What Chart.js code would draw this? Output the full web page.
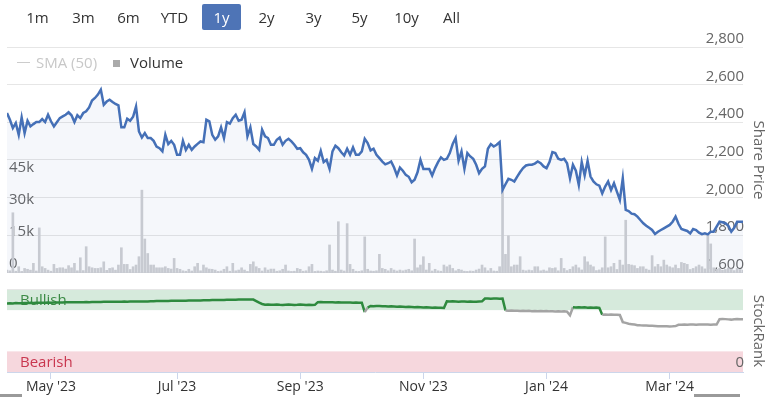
<!DOCTYPE html>
<html><head><meta charset="utf-8">
<script src="https://cdn.jsdelivr.net/npm/chart.js@4.4.1/dist/chart.umd.min.js"></script>
<style>
html,body{margin:0;padding:0;background:#fff;}
#wrap{position:relative;width:767px;height:397px;overflow:hidden;font-family:"Open Sans",sans-serif;}
#c{position:absolute;left:0;top:0;}
.btn{position:absolute;top:4px;width:39px;height:26px;line-height:26px;font-size:15px;color:#333;text-align:center;border-radius:2px;}
.sel{background:#4e74b6;color:#fff;}
.lg{position:absolute;font-size:15px;line-height:20px;top:52px;white-space:nowrap;}
.vt{position:absolute;font-size:15px;color:#666;white-space:nowrap;transform:translate(-50%,-50%) rotate(90deg);}
.sb{position:absolute;top:394px;height:3px;background:#9a9a9a;}
</style>
</head><body>
<div id="wrap">
<canvas id="c" width="767" height="397"></canvas>
<div class="btn" style="left:18px">1m</div>
<div class="btn" style="left:64px">3m</div>
<div class="btn" style="left:109px">6m</div>
<div class="btn" style="left:155px">YTD</div>
<div class="btn sel" style="left:202px">1y</div>
<div class="btn" style="left:247px">2y</div>
<div class="btn" style="left:294px">3y</div>
<div class="btn" style="left:340px">5y</div>
<div class="btn" style="left:387px">10y</div>
<div class="btn" style="left:432px">All</div>
<div style="position:absolute;left:17px;top:62px;width:13px;height:1px;background:#ccc"></div>
<div class="lg" style="left:36px;color:#c8c8c8">SMA (50)</div>
<div style="position:absolute;left:113px;top:60px;width:7px;height:7px;background:#aaa"></div>
<div class="lg" style="left:130px;color:#333">Volume</div>
<div class="vt" style="left:760px;top:160px">Share Price</div>
<div class="vt" style="left:760px;top:331px">StockRank</div>
<div class="sb" style="left:0;width:22px"></div>
<div class="sb" style="left:694px;width:46px"></div>
</div>
<script>
const priceValues = [
2449,2413,2369,2396,2333,2426,2342,2408,2378,2390,
2401,2401,2417,2401,2440,2405,2378,2400,2422,2431,
2440,2453,2437,2401,2437,2422,2449,2458,2479,2515,
2529,2547,2573,2493,2510,2520,2508,2497,2490,2373,
2373,2419,2408,2429,2483,2351,2319,2342,2316,2316,
2301,2271,2262,2245,2333,2284,2301,2280,2227,2227,
2301,2253,2280,2253,2271,2285,2298,2294,2413,2405,
2333,2307,2325,2373,2316,2401,2393,2422,2440,2408,
2413,2453,2325,2373,2284,2271,2253,2360,2325,2316,
2280,2280,2307,2319,2280,2301,2312,2298,2280,2259,
2262,2240,2227,2200,2152,2209,2195,2248,2188,2200,
2152,2245,2275,2262,2240,2223,2259,2227,2266,2227,
2227,2245,2312,2289,2250,2259,2227,2209,2191,2176,
2182,2191,2159,2117,2159,2142,2120,2110,2081,2094,
2134,2200,2152,2152,2152,2117,2156,2188,2213,2200,
2206,2236,2284,2316,2195,2245,2152,2236,2218,2205,
2174,2129,2152,2165,2259,2284,2271,2280,2294,2040,
2070,2099,2094,2085,2111,2135,2156,2170,2174,2174,
2180,2191,2182,2165,2156,2188,2241,2236,2206,2200,
2206,2182,2102,2174,2142,2067,2188,2117,2195,2111,
2085,2070,2063,2022,2058,2085,2040,2076,2031,1987,
2102,1934,1928,1914,1911,1898,1880,1863,1850,1839,
1827,1806,1818,1827,1836,1845,1854,1871,1898,1860,
1832,1827,1822,1809,1832,1827,1813,1805,1809,1804,
1818,1818,1845,1871,1868,1863,1850,1818,1839,1871,
1871,1871];

const volumeValues = [
1200,900,28100,700,2800,600,2000,1600,1200,4400,
800,21000,2800,2000,1200,700,3900,2000,2300,2300,
1700,3300,2300,4400,900,7000,1000,12200,2800,2300,
2000,2000,2300,5100,1100,2000,2300,1200,3600,11700,
3900,3900,1500,2800,3600,7500,38700,15800,9000,3600,
3600,2300,2300,2300,2800,2000,1700,6700,2000,1600,
900,700,1600,800,2800,4400,900,3600,2300,1700,
1600,1250,600,800,1600,2800,700,4400,900,1250,
2300,1250,600,3900,5100,2800,2000,800,2300,1250,
1700,1700,700,900,1600,3600,800,600,700,2000,
1600,700,900,2800,3900,600,800,700,500,900,
13000,1250,700,23900,1250,800,23000,3900,1600,700,
600,900,16800,1600,800,700,900,8600,2000,1600,
900,2000,1250,800,1250,900,1250,1600,900,15800,
2300,3600,7500,1250,4400,800,1600,900,700,3600,
2800,3600,2000,900,1600,1250,700,600,800,700,
1250,1700,3600,2300,900,2000,800,700,2800,38700,
8600,17300,2800,3600,3600,7500,1200,900,1250,1000,
2800,2800,900,1250,800,2300,2000,2300,900,6700,
2000,1000,1600,2800,3600,2300,1300,7500,5100,3600,
2800,1000,1300,2300,16800,2300,2800,4400,1500,5900,
3600,24600,3900,3600,3300,2000,2800,2800,1700,1200,
8000,2800,3900,2800,5900,3600,2800,2300,3600,2000,
4800,4400,3900,1500,2000,2800,3600,2800,1800,18000,
13500,2300,1600,2000,1200,1500,2200,1800,1000,2000,
1500,1200];

const rankValues = [
83.0,83.2,83.0,83.5,83.3,83.4,83.6,83.5,83.8,83.7,83.9,
84.0,84.0,84.1,84.2,84.1,84.3,84.3,84.4,84.3,84.5,84.5,84.6,84.5,84.6,84.7,84.7,84.8,84.7,84.8,84.9,
85.0,85.0,85.1,85.1,85.2,85.1,85.2,85.3,85.3,85.4,85.3,85.4,85.5,85.4,85.5,85.6,85.5,85.6,85.7,85.7,
86.0,86.0,86.1,86.2,86.2,86.3,86.3,86.4,86.5,86.4,86.5,86.6,86.6,86.7,86.8,86.8,
87.0,87.0,87.1,87.2,87.2,87.3,87.4,87.4,87.5,87.6,87.6,87.7,87.8,87.8,87.9,88.0,88.0,87.8,
86.0,84.0,82.5,
81.5,81.8,81.4,81.6,81.9,81.5,81.3,81.6,81.8,81.5,81.2,81.4,81.7,81.5,81.3,81.5,81.2,81.4,
84.7,84.8,84.6,84.7,84.5,84.6,84.4,84.5,84.3,84.4,84.2,84.3,84.1,84.2,84.0,84.0,
72.7,78.0,
80.0,79.8,80.1,79.9,79.7,79.8,79.5,79.6,79.4,79.2,79.3,79.1,78.9,79.0,78.8,78.6,78.7,78.5,78.3,78.4,78.2,78.0,78.1,77.9,77.8,77.6,
85.6,85.4,85.7,85.5,85.3,85.6,85.4,85.2,85.5,85.3,85.1,85.4,85.6,
89.0,89.2,88.9,89.1,89.0,88.8,89.0,
74.6,74.4,74.5,74.2,74.3,74.0,74.2,73.9,74.1,73.8,74.0,73.7,73.9,73.6,73.8,73.5,73.7,73.4,73.6,73.3,73.5,73.2,
68.7,
78.5,78.3,78.6,78.2,78.4,78.0,78.3,77.9,78.1,77.8,
69.5,69.7,69.4,69.6,69.3,69.5,69.2,
60.5,59.5,58.5,58.0,57.5,
56.8,56.6,56.5,56.3,56.1,56.0,55.8,55.6,55.5,55.4,55.5,55.3,55.4,55.6,
57.2,57.4,57.5,57.3,57.6,57.5,57.4,57.6,57.7,57.5,57.6,57.4,57.6,57.5,
64.0,64.3,64.1,63.8,63.5,63.9,64.2,64.0,64.1];

const monthTicks = [15, 58, 100, 142, 184, 226];
const monthLabels = ["May '23", "Jul '23", "Sep '23", "Nov '23", "Jan '24", "Mar '24"];
const priceTicks = [1600, 1800, 2000, 2200, 2400, 2600, 2800];
const volumeTicks = [0, 15000, 30000, 45000];
const rankTicks = [0, 100];
const bullishBand = [75, 100];
const bearishBand = [0, 25];

const toPoints = arr => arr.map((v, i) => ({x: i, y: v}));
const FONT = "'Open Sans', sans-serif";
Chart.defaults.font.family = FONT;

const bandsPlugin = {
  id: 'bands',
  beforeDraw(chart) {
    const {ctx, chartArea: a, scales} = chart;
    const r = scales.yRank;
    const t1 = r.getPixelForValue(bullishBand[1]), b1 = r.getPixelForValue(bullishBand[0]);
    const t2 = r.getPixelForValue(bearishBand[1]), b2 = r.getPixelForValue(bearishBand[0]);
    ctx.save();
    ctx.fillStyle = '#d6eadc';
    ctx.fillRect(a.left, t1, a.right - a.left, b1 - t1);
    ctx.fillStyle = '#f6d7dd';
    ctx.fillRect(a.left, t2, a.right - a.left, b2 - t2);
    ctx.font = "15px " + FONT;
    ctx.textBaseline = 'middle';
    ctx.fillStyle = '#3a8a44';
    ctx.fillText('Bullish', a.left + 13, (t1 + b1) / 2 + 1);
    ctx.fillStyle = '#c9374f';
    ctx.fillText('Bearish', a.left + 13, (t2 + b2) / 2 + 1.5);
    ctx.restore();
  }
};

new Chart(document.getElementById('c'), {
  type: 'bar',
  data: {
    datasets: [
      {
        type: 'line', label: 'Share Price', yAxisID: 'yPrice', order: 0,
        data: toPoints(priceValues),
        borderColor: '#4570b7', borderWidth: 2.5, pointRadius: 0, tension: 0,
        fill: {value: 1600}, backgroundColor: 'rgba(69,112,183,0.055)'
      },
      {
        type: 'line', label: 'StockRank', yAxisID: 'yRank', order: 1,
        data: toPoints(rankValues),
        borderWidth: 2.5, pointRadius: 0, tension: 0, fill: false,
        segment: { borderColor: c => (c.p0.parsed.y >= 75 ? '#2e8a3e' : '#a4a4a4') }
      },
      {
        type: 'bar', label: 'Volume', yAxisID: 'yVol', order: 2,
        data: toPoints(volumeValues),
        backgroundColor: '#c7cad1', barThickness: 2
      }
    ]
  },
  options: {
    responsive: false, animation: false,
    layout: { padding: { left: 7, right: 24, top: 47, bottom: 0 } },
    plugins: { legend: {display: false}, tooltip: {enabled: false}, filler: {drawTime: 'beforeDatasetsDraw'} },
    scales: {
      x: {
        type: 'linear', min: 0, max: 251, position: 'bottom', offset: false,
        afterBuildTicks: s => { s.ticks = monthTicks.map(v => ({value: v})); },
        afterFit: s => { s.height = 25; },
        ticks: { autoSkip: false, maxRotation: 0, color: '#333', font: {size: 14}, padding: 0,
          callback: v => { const k = monthTicks.indexOf(v); return k >= 0 ? monthLabels[k] : ''; } },
        grid: { offset: false, drawOnChartArea: false, tickLength: 7, color: '#ccd6eb' },
        border: { display: true, color: '#ccd6eb' }
      },
      yPrice: {
        type: 'linear', position: 'right', min: 1072, max: 2800,
        afterBuildTicks: s => { s.ticks = priceTicks.map(v => ({value: v})); },
        afterFit: s => { s.width = 0; },
        ticks: { mirror: true, padding: 1, labelOffset: -8, color: '#666', font: {size: 15},
          callback: v => v.toLocaleString('en-US') },
        grid: { color: '#e6e6e6', drawTicks: false }, border: { display: false }
      },
      yVol: {
        type: 'linear', position: 'left', min: -46550, max: 105800,
        afterBuildTicks: s => { s.ticks = volumeTicks.map(v => ({value: v})); },
        afterFit: s => { s.width = 0; },
        ticks: { mirror: true, padding: 2, labelOffset: -9, color: '#666', font: {size: 15},
          callback: v => v === 0 ? '0' : (v / 1000) + 'k' },
        grid: { display: false }, border: { display: false }
      },
      yRank: {
        type: 'linear', position: 'right', min: 0, max: 394,
        afterBuildTicks: s => { s.ticks = rankTicks.map(v => ({value: v})); },
        afterFit: s => { s.width = 0; },
        ticks: { mirror: true, padding: 1, labelOffset: -9, color: '#666', font: {size: 15},
          callback: v => v === 0 ? '0' : '' },
        grid: { drawTicks: false, color: c => (c.tick && c.tick.value === 100 ? '#e6e6e6' : 'rgba(0,0,0,0)') },
        border: { display: false }
      }
    }
  },
  plugins: [bandsPlugin]
});
</script>
</body></html>
